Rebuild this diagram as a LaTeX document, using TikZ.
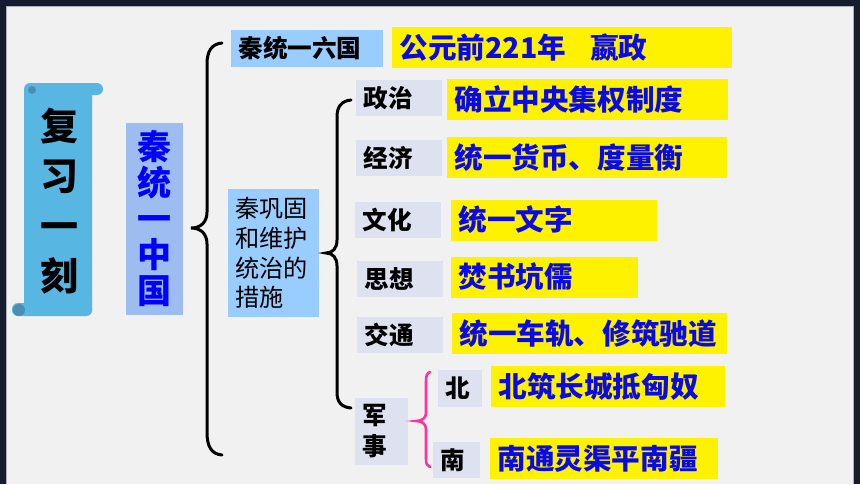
\documentclass[tikz,border=0pt]{standalone}
\usepackage{fontspec}
\setmainfont{Noto Sans CJK SC}
\usetikzlibrary{positioning}
\definecolor{framenavy}{HTML}{161C30}
\definecolor{paper}{HTML}{F1F1F1}
\definecolor{scrollblue}{HTML}{58B6E2}
\definecolor{scrolldark}{HTML}{4A8DB5}
\definecolor{titleblue}{HTML}{9DBDF0}
\definecolor{skyblue}{HTML}{99CCFF}
\definecolor{lavender}{HTML}{DDE1F0}
\definecolor{hotpink}{HTML}{FF3399}
\definecolor{inkblue}{HTML}{0A0AE6}

\begin{document}
\begin{tikzpicture}[
        x=0.5pt, y=-0.5pt,
        answer/.style={fill=yellow, anchor=west, inner xsep=3.5pt, inner ysep=0pt, minimum height=20.5pt,
            align=left, text=inkblue, font=\fontsize{14.3}{16}\selectfont\bfseries},
        field/.style={fill=lavender, anchor=west, inner xsep=3.5pt, inner ysep=0pt, minimum height=18pt,
            align=left, font=\fontsize{12.3}{15.5}\selectfont\bfseries},
        topic/.style={fill=skyblue, anchor=west, inner xsep=3.5pt, inner ysep=0pt, align=left},
        brace/.style={line width=1.5pt, line cap=round},
    ]
    \useasboundingbox (0,0) rectangle (860,484);
    \fill[framenavy] (0,0) rectangle (860,484);
    \fill[paper] (6,6) rectangle (853,484);
    \draw[framenavy!35!white, line width=0.5pt] (6,484) -- (6,6) -- (853,6) -- (853,484);

    \fill[scrollblue, rounded corners=2pt] (24,86) rectangle (92,315);
    \fill[scrollblue, rounded corners=3pt] (24,95) -- (24,83) -- (103,83) -- (103,95) -- cycle;
    \fill[scrollblue, rounded corners=3pt] (12,303) -- (92,303) -- (92,316) -- (12,316) -- cycle;
    \fill[scrolldark] (32,90) circle[radius=2pt];
    \fill[scrolldark] (19,310) circle[radius=3pt];
    \node[align=center, font=\fontsize{19}{25}\selectfont\bfseries] (review) at (59,201) {复\\习\\一\\刻};

    \node[fill=titleblue, minimum width=28.5pt, minimum height=96pt, inner sep=0pt, align=center,
        text=blue, font=\fontsize{17}{18}\selectfont\bfseries] (unify) at (154.5,219) {秦\\统\\一\\中\\国};

    \draw[brace] (222,43) .. controls (211,44) and (207,52) .. (207,64) -- (207,212)
        .. controls (207,222) and (201,228) .. (191,228)
        .. controls (201,228) and (207,234) .. (207,244) -- (207,432)
        .. controls (207,446) and (211,454) .. (222,455);

    \node[topic, text width=69pt, minimum height=18.5pt, font=\fontsize{12.3}{15}\selectfont\bfseries]
        (sixstates) at (231,48.5) {秦统一六国};
    \node[answer, text width=163pt] (year) at (392,47.5) {公元前221年\hspace{12pt}嬴政};

    \node[topic, text width=38.5pt, minimum height=64pt, font=\fontsize{12.1}{14.8}\selectfont]
        (measures) at (228,253) {秦巩固\\和维护\\统治的\\措施};

    \draw[brace] (351,100) .. controls (341,101) and (337,107) .. (337,117) -- (337,240)
        .. controls (337,248) and (333,253) .. (326,253)
        .. controls (333,253) and (337,258) .. (337,266) -- (337,392)
        .. controls (337,402) and (341,407) .. (351,408);

    \node[field, text width=36pt] (politics) at (356,98)    {政治};
    \node[field, text width=36pt] (economy)  at (356,157.5) {经济};
    \node[field, text width=36pt] (culture)  at (355,220)   {文化};
    \node[field, text width=36pt] (thought)  at (357,279)   {思想};
    \node[field, text width=36pt] (traffic)  at (357,335)   {交通};
    \node[field, text width=19.5pt, minimum height=33.5pt] (military) at (355,431.5) {军\\事};
    \node[field, text width=15pt, minimum height=18.5pt] (north) at (438,388.5) {北};
    \node[field, text width=16.5pt] (south) at (433,460) {南};

    \draw[brace, hotpink, line width=1.3pt] (430,372) .. controls (427,373) and (426,376) .. (426,381) -- (426,413)
        .. controls (426,418) and (422,421) .. (416,421)
        .. controls (422,421) and (426,424) .. (426,429) -- (426,459)
        .. controls (426,464) and (427,466) .. (430,467);

    \node[answer, text width=133.5pt] (central)  at (447,99)    {确立中央集权制度};
    \node[answer, text width=133pt]   (currency) at (447,157.5) {统一货币、度量衡};
    \node[answer, text width=96pt]    (script)   at (451,220)   {统一文字};
    \node[answer, text width=86.5pt]  (burning)  at (451,277)   {焚书坑儒};
    \node[answer, text width=130.5pt] (roads)    at (452,333.5) {统一车轨、修筑驰道};
    \node[answer, text width=110pt]   (wall)     at (491,386.5) {北筑长城抵匈奴};
    \node[answer, text width=107pt]   (canal)    at (490,458.5) {南通灵渠平南疆};
\end{tikzpicture}
\end{document}
